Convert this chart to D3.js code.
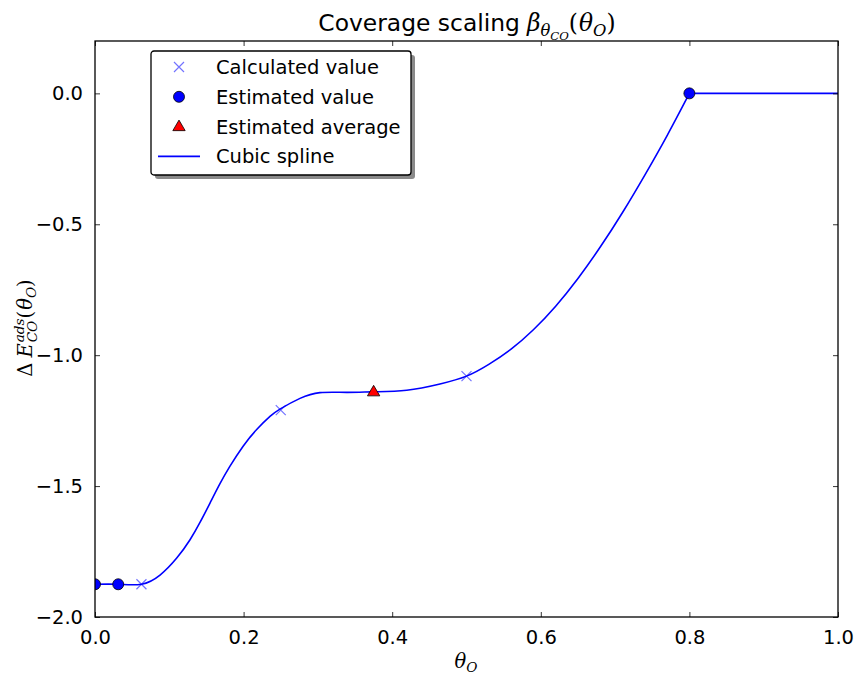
<!DOCTYPE html>
<html>
<head>
<meta charset="utf-8">
<script src="https://cdn.jsdelivr.net/npm/d3@7"></script>
<style>
  body { margin: 0; background: #fff; }
  text { font-family: "DejaVu Sans", sans-serif; fill: #000; white-space: pre; }
  .math { font-family: "DejaVu Serif", serif; font-style: italic; }
</style>
</head>
<body>
<svg></svg>
<script>
///////////////////////////////////////////
// Data
var calcTheta = [0.0625, 0.25, 0.5],
    calcE     = [-1.875, -1.21, -1.08];

var estTheta = [0, 0.03125, 0.8],
    estE     = [-1.875, -1.875, 0];

var avgTheta = [0.375],
    avgE     = [-1.14];

// sampled along the drawn cubic spline
var splineTheta = [0, 0.03125, 0.0625, 0.0875, 0.110, 0.1279, 0.1413, 0.1548, 0.1682, 0.1817,
                   0.1996, 0.2176, 0.2355, 0.25, 0.2759, 0.3028, 0.3387, 0.375, 0.4195, 0.4643,
                   0.5, 0.53, 0.56, 0.59, 0.62, 0.65, 0.68, 0.71, 0.74, 0.77, 0.8, 1.0];
var splineE = [-1.875, -1.875, -1.875, -1.840, -1.775, -1.705, -1.639, -1.565, -1.491, -1.424,
               -1.347, -1.284, -1.234, -1.204, -1.165, -1.143, -1.142, -1.14, -1.134, -1.110,
               -1.08, -1.035, -0.977, -0.903, -0.813, -0.707, -0.587, -0.455, -0.312, -0.161, 0, 0];

var xTicks = [0, 0.2, 0.4, 0.6, 0.8, 1.0],
    yTicks = [-2.0, -1.5, -1.0, -0.5, 0.0];

var legendLabels = ["Calculated value", "Estimated value", "Estimated average", "Cubic spline"];

///////////////////////////////////////////
// Layout
var svgWidth = 858, svgHeight = 675;
var margin = {top: 41, right: 20, bottom: 58, left: 95},
    width = 838 - margin.left,
    height = 617 - margin.top;

var svg = d3.select("svg").attr("width", svgWidth).attr("height", svgHeight);
var g = svg.append("g").attr("transform", "translate(" + [margin.left, margin.top] + ")");

var x = d3.scaleLinear().domain([0, 1]).range([0, width]);
var y = d3.scaleLinear().domain([-2, 0.2]).range([height, 0]);

svg.append("defs").append("clipPath").attr("id", "plotclip")
  .append("rect").attr("width", width).attr("height", height);

///////////////////////////////////////////
// Spline: cubic part up to 0.8, constant after
var pts = splineTheta.map(function(t, i){ return [t, splineE[i]]; });
var line = d3.line().x(function(d){ return x(d[0]); }).y(function(d){ return y(d[1]); });

var plot = g.append("g").attr("clip-path", "url(#plotclip)");
plot.append("path")
  .attr("d", line.curve(d3.curveNatural)(pts.filter(function(d){ return d[0] <= 0.8; })))
  .attr("fill", "none").attr("stroke", "#0000ff").attr("stroke-width", 1.6);
plot.append("path")
  .attr("d", line.curve(d3.curveLinear)(pts.filter(function(d){ return d[0] >= 0.8; })))
  .attr("fill", "none").attr("stroke", "#0000ff").attr("stroke-width", 1.6);

// markers
function crossPath(cx, cy, r) {
  return "M" + (cx - r) + "," + (cy - r) + "L" + (cx + r) + "," + (cy + r) +
         "M" + (cx - r) + "," + (cy + r) + "L" + (cx + r) + "," + (cy - r);
}
function triPath(cx, cy, r) {
  return "M" + cx + "," + (cy - r) + "L" + (cx + r * 0.95) + "," + (cy + r * 0.62) +
         "L" + (cx - r * 0.95) + "," + (cy + r * 0.62) + "Z";
}

calcTheta.forEach(function(t, i){
  plot.append("path").attr("d", crossPath(x(t), y(calcE[i]), 5))
    .attr("stroke", "#0000ff").attr("stroke-opacity", 0.55).attr("stroke-width", 1.2).attr("fill", "none");
});
estTheta.forEach(function(t, i){
  plot.append("circle").attr("cx", x(t)).attr("cy", y(estE[i])).attr("r", 5.5)
    .attr("fill", "#0000ff").attr("stroke", "#000").attr("stroke-width", 0.8);
});
avgTheta.forEach(function(t, i){
  plot.append("path").attr("d", triPath(x(t), y(avgE[i]), 6.5))
    .attr("fill", "#ff0000").attr("stroke", "#000").attr("stroke-width", 0.8);
});

///////////////////////////////////////////
// Axes: inward ticks on all four sides
var fmt = d3.format(".1f");
function minusFmt(v) { return fmt(v).replace("-", "\u2212"); }

var axB = g.append("g").attr("transform", "translate(0," + height + ")")
  .call(d3.axisBottom(x).tickValues(xTicks).tickSizeInner(-5).tickSizeOuter(0).tickPadding(13).tickFormat(minusFmt));
var axT = g.append("g")
  .call(d3.axisTop(x).tickValues(xTicks).tickSizeInner(-5).tickSizeOuter(0).tickFormat(""));
var axL = g.append("g")
  .call(d3.axisLeft(y).tickValues(yTicks).tickSizeInner(-5).tickSizeOuter(0).tickPadding(12).tickFormat(minusFmt));
var axR = g.append("g").attr("transform", "translate(" + width + ",0)")
  .call(d3.axisRight(y).tickValues(yTicks).tickSizeInner(-5).tickSizeOuter(0).tickFormat(""));

[axB, axT, axL, axR].forEach(function(a){
  a.select(".domain").remove();
  a.selectAll(".tick line").attr("stroke", "#000").attr("stroke-width", 0.8);
  a.selectAll("text").attr("font-family", "DejaVu Sans").attr("font-size", 19.5).attr("fill", "#000");
});

g.append("rect").attr("width", width).attr("height", height)
  .attr("fill", "none").attr("stroke", "#000").attr("stroke-width", 1.3);

///////////////////////////////////////////
// Math-ish text helper: pieces laid out left to right, measured as we go
function mathText(parent, pieces, size) {
  var grp = parent.append("g");
  var cx = 0, lastStart = 0, lastW = 0;
  pieces.forEach(function(p){
    var fs = size * (p.scale || 1);
    var startX = p.stack ? lastStart : cx;
    var t = grp.append("text")
      .attr("x", startX).attr("y", -(p.shift || 0) * size)
      .attr("font-size", fs).text(p.s);
    if (p.serif) t.attr("class", "math");
    if (p.upright) t.style("font-style", "normal");
    var w = t.node().getComputedTextLength();
    if (p.stack) {
      cx = Math.max(lastStart + lastW, startX + w);
    } else {
      lastStart = startX; lastW = w;
      cx = startX + w;
    }
    cx += (p.gap || 0);
  });
  grp.totalWidth = cx;
  return grp;
}

// title
var title = mathText(svg, [
  {s: "Coverage scaling", gap: 7},
  {s: "\u03b2", serif: true},
  {s: "\u03b8", serif: true, scale: 0.7, shift: -0.22},
  {s: "CO", serif: true, scale: 0.5, shift: -0.4},
  {s: "(", serif: true, upright: true, gap: 1},
  {s: "\u03b8", serif: true},
  {s: "O", serif: true, scale: 0.7, shift: -0.22},
  {s: ")", serif: true, upright: true}
], 23.4);
title.attr("transform", "translate(" + (467 - title.totalWidth / 2) + ",31)");

// x label
var xl = mathText(svg, [
  {s: "\u03b8", serif: true},
  {s: "O", serif: true, scale: 0.7, shift: -0.22}
], 19.5);
xl.attr("transform", "translate(" + (466 - xl.totalWidth / 2) + ",668)");

// y label
var yl = mathText(svg, [
  {s: "\u0394", serif: true, upright: true, gap: 5},
  {s: "E", serif: true, gap: 1},
  {s: "ads", serif: true, scale: 0.7, shift: 0.42},
  {s: "CO", serif: true, scale: 0.7, shift: -0.28, stack: true},
  {s: "(", serif: true, upright: true, gap: 1},
  {s: "\u03b8", serif: true},
  {s: "O", serif: true, scale: 0.7, shift: -0.22},
  {s: ")", serif: true, upright: true}
], 19.5);
yl.attr("transform", "translate(32," + (328 + yl.totalWidth / 2) + ") rotate(-90)");

///////////////////////////////////////////
// Legend
var lg = svg.append("g").attr("transform", "translate(151,51)");
var lgW = 260, lgH = 124;
lg.append("rect").attr("x", 4).attr("y", 4).attr("width", lgW).attr("height", lgH).attr("rx", 3)
  .attr("fill", "#8a8a8a");
lg.append("rect").attr("width", lgW).attr("height", lgH).attr("rx", 3)
  .attr("fill", "#fff").attr("stroke", "#000").attr("stroke-width", 1.3);

legendLabels.forEach(function(lab, i){
  var cy = 16 + i * 29.8, mx = 28;
  if (i === 0) lg.append("path").attr("d", crossPath(mx, cy, 5))
    .attr("stroke", "#0000ff").attr("stroke-opacity", 0.55).attr("stroke-width", 1.2).attr("fill", "none");
  if (i === 1) lg.append("circle").attr("cx", mx).attr("cy", cy).attr("r", 5.5)
    .attr("fill", "#0000ff").attr("stroke", "#000").attr("stroke-width", 0.8);
  if (i === 2) lg.append("path").attr("d", triPath(mx, cy, 6.5))
    .attr("fill", "#ff0000").attr("stroke", "#000").attr("stroke-width", 0.8);
  if (i === 3) lg.append("line").attr("x1", 7).attr("x2", 49).attr("y1", cy).attr("y2", cy)
    .attr("stroke", "#0000ff").attr("stroke-width", 1.6);
  lg.append("text").attr("x", 65).attr("y", cy).attr("dy", "0.36em")
    .attr("font-size", 19.5).text(lab);
});
</script>
</body>
</html>
